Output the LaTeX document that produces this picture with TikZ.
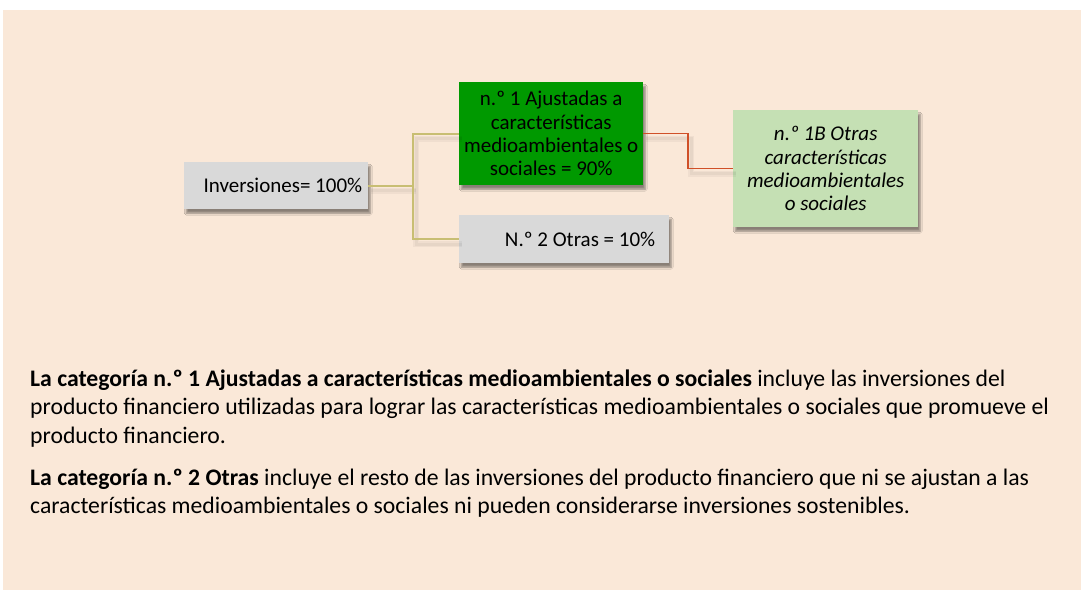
\documentclass[tikz,border=0pt]{standalone}
\usepackage{fontspec}
\setmainfont{Carlito}
\usetikzlibrary{shadows.blur}

\definecolor{fondo}{RGB}{250,232,216}
\definecolor{grisbox}{RGB}{217,217,217}
\definecolor{verdeuno}{RGB}{0,153,0}
\definecolor{verdeclaro}{RGB}{197,224,180}
\definecolor{ramagris}{RGB}{200,190,115}
\definecolor{ramaroja}{RGB}{208,80,40}

\tikzset{
  caja/.style={draw=none, inner ysep=0pt, anchor=north west,
    blur shadow={shadow xshift=2pt, shadow yshift=-4pt, shadow blur steps=6, shadow opacity=45}},
  cajagris/.style={caja, fill=grisbox},
  rama/.style={draw=ramagris, line width=1.6pt},
  ramaroja/.style={draw=ramaroja, line width=1.3pt},
  sombra/.style={draw=black, opacity=0.04, line width=#1, transform canvas={shift={(3pt,-5pt)}}},
  linea/.style={anchor=base west, inner sep=0pt, font=\fontsize{23.7}{28.5}\selectfont}
}

\begin{document}
\begin{tikzpicture}[x=1pt, y=-1pt, font=\fontsize{21}{23.3}\selectfont]
\useasboundingbox (0,0) rectangle (1081,590);
\fill[fondo] (3,10) rectangle (1081,590);

\node[cajagris, minimum width=184pt, minimum height=47pt, inner xsep=6pt, text width=172pt, align=flush right] (inv) at (184,162) {Inversiones= 100\%};
\node[caja, fill=verdeuno, minimum width=184pt, minimum height=103pt, inner xsep=1pt, text width=182pt, align=flush center] (uno) at (459,82) {n.º 1 Ajustadas a\\características\\medioambientales o\\sociales = 90\%};
\node[cajagris, minimum width=210pt, minimum height=48pt, inner xsep=14pt, text width=182pt, align=flush right] (dos) at (459,215) {N.º 2 Otras = 10\%};
\node[caja, fill=verdeclaro, minimum width=185pt, minimum height=117pt, inner xsep=1pt, text width=183pt, align=flush center, font=\fontsize{21}{23.3}\selectfont\itshape] (unob) at (733,110) {n.º 1B Otras\\características\\medioambientales\\o sociales};

\coordinate (bif) at (413,0);
\coordinate (codo) at (688,0);
% sombras de las ramas
\foreach \w in {3pt,6pt}{
  \draw[sombra=\w] (inv.east) -- (inv.east -| bif);
  \draw[sombra=\w] (uno.west) -| (bif |- inv.east) |- (dos.west);
  \draw[sombra=\w] (uno.east) -| (codo |- unob.west) -- (unob.west);
}
\draw[rama] (inv.east) -- (inv.east -| bif);
\draw[rama] (uno.west) -| (bif |- inv.east) |- (dos.west);
\draw[ramaroja] (uno.east) -| (codo |- unob.west) -- (unob.west);

\node[linea] (p1a) at (30,386) {\textbf{La categoría n.º 1 Ajustadas a características medioambientales o sociales} incluye las inversiones del};
\node[linea] (p1b) at (30,414.5) {producto financiero utilizadas para lograr las características medioambientales o sociales que promueve el};
\node[linea] (p1c) at (30,443) {producto financiero.};
\node[linea] (p2a) at (30,485) {\textbf{La categoría n.º 2 Otras} incluye el resto de las inversiones del producto financiero que ni se ajustan a las};
\node[linea] (p2b) at (30,513.5) {características medioambientales o sociales ni pueden considerarse inversiones sostenibles.};
\end{tikzpicture}
\end{document}
